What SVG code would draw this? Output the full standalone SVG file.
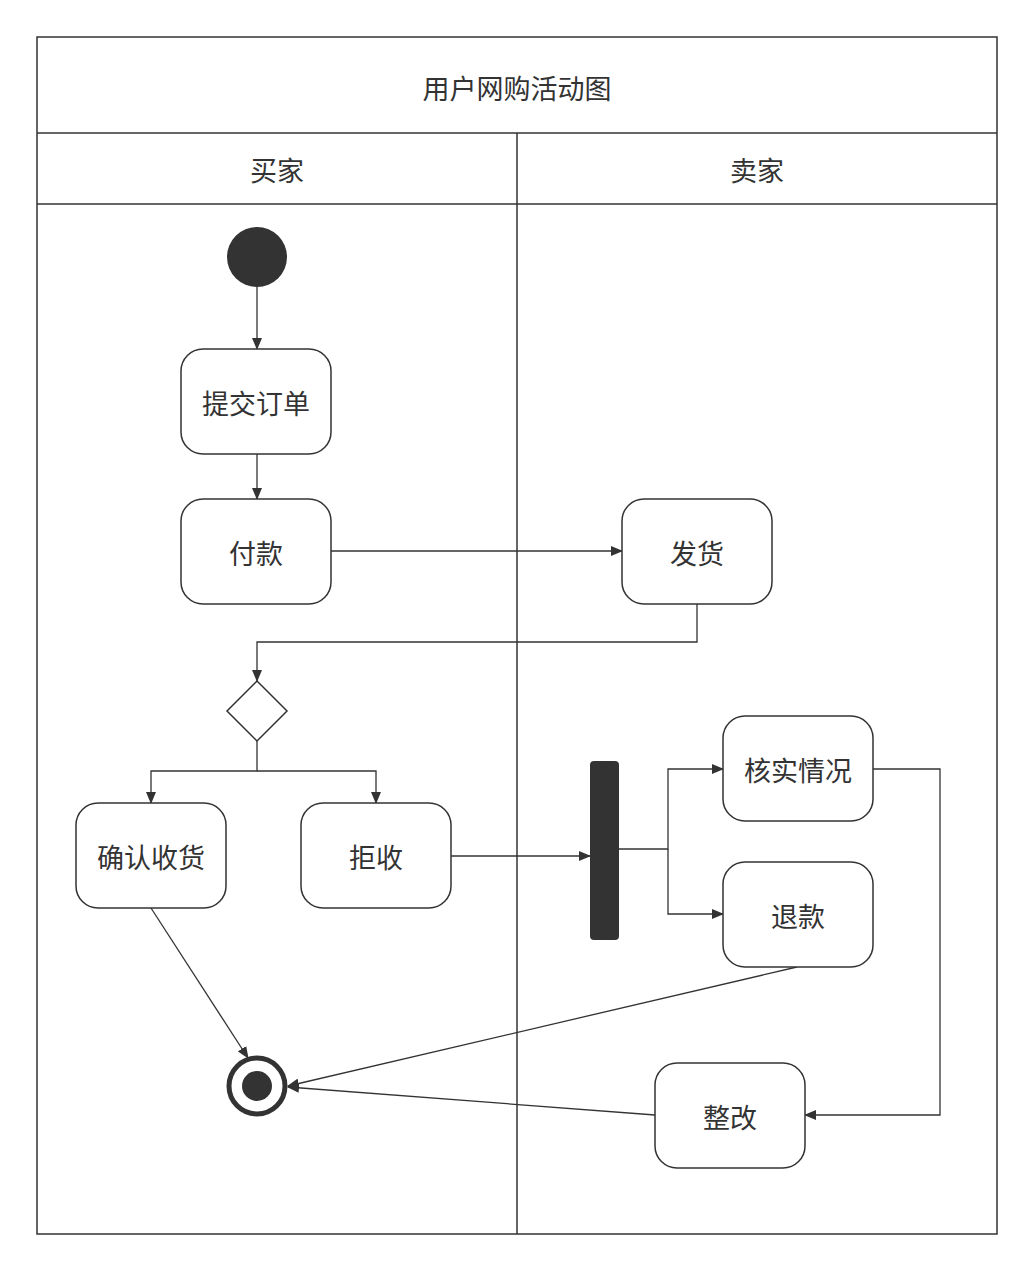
<svg xmlns="http://www.w3.org/2000/svg" width="1035" height="1272" viewBox="0 0 1035 1272">
<style>
.f{fill:none;stroke:#333;stroke-width:1.5}
.n{fill:#fff;stroke:#333;stroke-width:1.5}
.c{fill:none;stroke:#333;stroke-width:1.3}
text{font-family:"Noto Sans CJK SC",sans-serif;font-size:27px;fill:#333;text-anchor:middle;dominant-baseline:central}
</style>
<defs><marker id="a" markerWidth="12" markerHeight="10" refX="11" refY="5" orient="auto" markerUnits="userSpaceOnUse"><path d="M0,0 L12,5 L0,10 Z" fill="#333"/></marker></defs>
<rect width="1035" height="1272" fill="#fff"/>
<g id="frame">
<rect class="f" x="37" y="37" width="960" height="1197"/>
<line class="f" x1="37" y1="133" x2="997" y2="133"/>
<line class="f" x1="37" y1="204" x2="997" y2="204"/>
<line class="f" x1="517" y1="133" x2="517" y2="1234"/>
<text x="517" y="87">用户网购活动图</text>
<text x="277" y="169">买家</text>
<text x="757" y="169">卖家</text>
</g>
<g id="connectors">
<line class="c" x1="257" y1="287" x2="257" y2="349" marker-end="url(#a)"/>
<line class="c" x1="257" y1="454" x2="257" y2="499" marker-end="url(#a)"/>
<line class="c" x1="331" y1="551" x2="622" y2="551" marker-end="url(#a)"/>
<polyline class="c" points="697,604 697,642 257,642 257,681" marker-end="url(#a)"/>
<polyline class="c" points="257,741 257,771 151,771 151,803" marker-end="url(#a)"/>
<polyline class="c" points="257,771 376,771 376,803" marker-end="url(#a)"/>
<line class="c" x1="451" y1="856" x2="590" y2="856" marker-end="url(#a)"/>
<polyline class="c" points="619,849 668,849 668,769 723,769" marker-end="url(#a)"/>
<polyline class="c" points="668,849 668,914 723,914" marker-end="url(#a)"/>
<polyline class="c" points="873,769 940,769 940,1115 805,1115" marker-end="url(#a)"/>
<line class="c" x1="151" y1="908" x2="248" y2="1058" marker-end="url(#a)"/>
<line class="c" x1="797" y1="967" x2="288" y2="1086" marker-end="url(#a)"/>
<line class="c" x1="655" y1="1115" x2="288" y2="1087" marker-end="url(#a)"/>
</g>
<g id="start"><circle cx="257" cy="257" r="30" fill="#333"/></g>
<g id="n1"><rect class="n" x="181" y="349" width="150" height="105" rx="22"/><text x="256" y="402">提交订单</text></g>
<g id="n2"><rect class="n" x="181" y="499" width="150" height="105" rx="22"/><text x="256" y="552">付款</text></g>
<g id="n3"><rect class="n" x="622" y="499" width="150" height="105" rx="22"/><text x="697" y="552">发货</text></g>
<g id="decision"><polygon class="n" points="257,681 287,711 257,741 227,711"/></g>
<g id="n4"><rect class="n" x="76" y="803" width="150" height="105" rx="22"/><text x="151" y="856">确认收货</text></g>
<g id="n5"><rect class="n" x="301" y="803" width="150" height="105" rx="22"/><text x="376" y="856">拒收</text></g>
<g id="fork"><rect x="590" y="761" width="29" height="179" rx="4" fill="#333"/></g>
<g id="n6"><rect class="n" x="723" y="716" width="150" height="105" rx="22"/><text x="798" y="769">核实情况</text></g>
<g id="n7"><rect class="n" x="723" y="862" width="150" height="105" rx="22"/><text x="798" y="915">退款</text></g>
<g id="n8"><rect class="n" x="655" y="1063" width="150" height="105" rx="22"/><text x="730" y="1116">整改</text></g>
<g id="end"><circle cx="257" cy="1086" r="28" fill="#fff" stroke="#333" stroke-width="5"/><circle cx="257" cy="1086" r="15" fill="#333"/></g>
</svg>
